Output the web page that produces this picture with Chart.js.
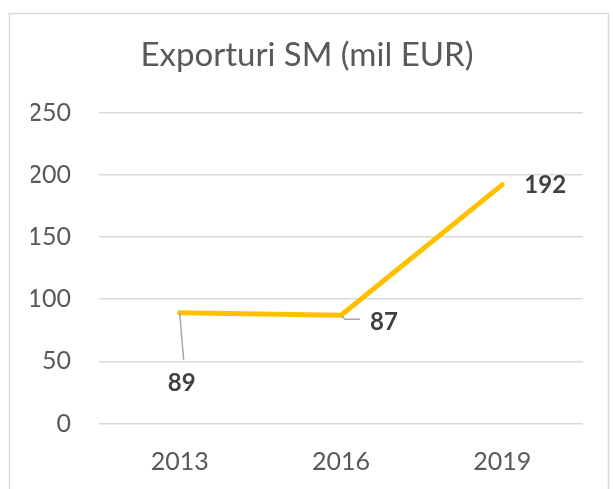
<!DOCTYPE html>
<html>
<head>
<meta charset="utf-8">
<script src="https://cdn.jsdelivr.net/npm/chart.js@4/dist/chart.umd.min.js"></script>
<style>
  html, body { margin: 0; padding: 0; background: #fff; }
  #wrap { width: 613px; height: 489px; }
</style>
</head>
<body>
<div id="wrap"><canvas id="chart" width="613" height="489"></canvas></div>
<script>
const chartTitle = 'Exporturi SM (mil EUR)';
const years = ['2013', '2016', '2019'];
const exports = [89, 87, 192];
const yTicks = [0, 50, 100, 150, 200, 250];

// where each value label sits relative to its point, and its leader line
const labelSpots = [
    { dx: 2, dy: 70, leader: [[0, 0], [4, 47]] },
    { dx: 29, dy: 7, leader: [[0, 0], [4, 4], [19, 4]] },
    { dx: 22, dy: 1, leader: null }
];

const fontFamily = 'Lato, "Open Sans", sans-serif';

const chartFrame = {
    id: 'chartFrame',
    beforeDraw(chart) {
        const c = chart.ctx;
        c.save();
        c.strokeStyle = '#d9d9d9';
        c.lineWidth = 1.5;
        c.strokeRect(9.5, 13.5, 599, 520);
        c.restore();
    }
};

const valueLabels = {
    id: 'valueLabels',
    afterDatasetsDraw(chart) {
        const c = chart.ctx;
        const meta = chart.getDatasetMeta(0);
        c.save();
        meta.data.forEach((pt, i) => {
            const spot = labelSpots[i];
            if (spot.leader) {
                c.strokeStyle = '#a6a6a6';
                c.lineWidth = 1.5;
                c.beginPath();
                spot.leader.forEach(([lx, ly], k) => {
                    if (k === 0) c.moveTo(pt.x + lx, pt.y + ly);
                    else c.lineTo(pt.x + lx, pt.y + ly);
                });
                c.stroke();
            }
            c.fillStyle = '#404040';
            c.font = 'bold 24px ' + fontFamily;
            c.textBaseline = 'middle';
            c.textAlign = spot.leader && spot.leader.length === 2 ? 'center' : 'left';
            c.fillText(String(exports[i]), pt.x + spot.dx, pt.y + spot.dy);
        });
        c.restore();
    }
};

new Chart(document.getElementById('chart'), {
    type: 'line',
    data: {
        labels: years,
        datasets: [{
            data: exports,
            borderColor: '#ffc000',
            borderWidth: 5,
            borderCapStyle: 'round',
            borderJoinStyle: 'round',
            pointRadius: 0,
            tension: 0
        }]
    },
    options: {
        responsive: false,
        animation: false,
        layout: { padding: { left: 31, right: 30, top: 0, bottom: 0 } },
        plugins: {
            legend: { display: false },
            tooltip: { enabled: false },
            title: {
                display: true,
                text: chartTitle,
                color: '#595959',
                font: { family: fontFamily, size: 33, weight: 'normal', lineHeight: 1.2 },
                padding: { top: 36, bottom: 36.9 }
            }
        },
        scales: {
            x: {
                offset: true,
                grid: { display: false, drawTicks: false },
                border: { display: false },
                ticks: {
                    color: '#595959',
                    font: { family: fontFamily, size: 25 },
                    padding: 23
                },
                afterFit: s => { s.height = 65.5; }
            },
            y: {
                min: 0,
                max: 250,
                afterBuildTicks: s => { s.ticks = yTicks.map(v => ({ value: v })); },
                grid: { color: '#d9d9d9', lineWidth: 1.5, drawTicks: false },
                border: { display: false },
                ticks: {
                    color: '#595959',
                    font: { family: fontFamily, size: 25 },
                    padding: 28
                },
                afterFit: s => { s.width = 68; }
            }
        }
    },
    plugins: [chartFrame, valueLabels]
});
</script>
</body>
</html>
